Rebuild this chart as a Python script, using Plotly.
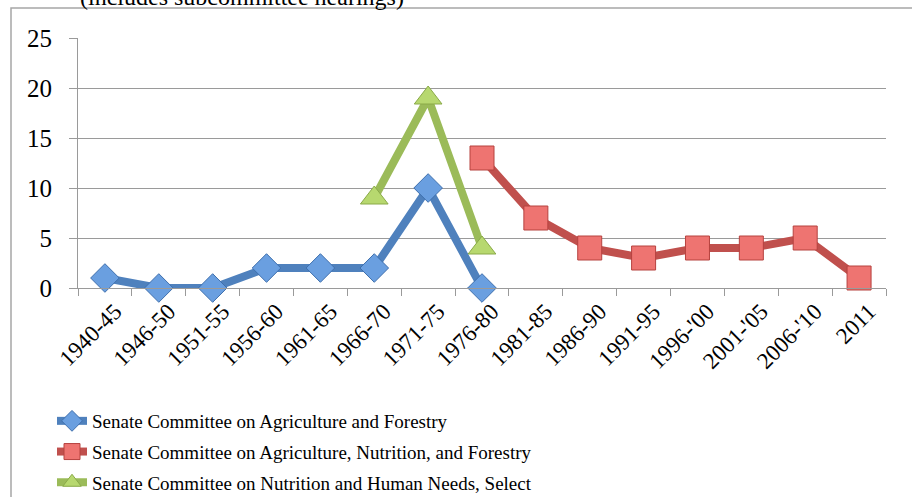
import plotly.graph_objects as go

periods = ["1940-45", "1946-50", "1951-55", "1956-60", "1961-65", "1966-70", "1971-75",
           "1976-80", "1981-85", "1986-90", "1991-95", "1996-'00", "2001-'05", "2006-'10", "2011"]

ag_forestry = [1, 0, 0, 2, 2, 2, 10, 0, None, None, None, None, None, None, None]
ag_nutrition_forestry = [None, None, None, None, None, None, None, 13, 7, 4, 3, 4, 4, 5, 1]
nutrition_human_needs = [None, None, None, None, None, 9, 19, 4, None, None, None, None, None, None, None]

names = ["Senate Committee on Agriculture and Forestry",
         "Senate Committee on Agriculture, Nutrition, and Forestry",
         "Senate Committee on Nutrition and Human Needs, Select"]

FONT = "Liberation Serif"

fig = go.Figure()
series = [
    (ag_forestry, names[0], "#4F81BD", "#6A9FE0", "#3E6FAD", "diamond", 22),
    (ag_nutrition_forestry, names[1], "#C0504D", "#EE7471", "#B6423F", "square", 24),
    (nutrition_human_needs, names[2], "#9BBB59", "#B7D86F", "#8AAA48", "triangle-up", 24),
]
for i, (vals, name, lc, mc, ml, sym, sz) in enumerate(series):
    fig.add_trace(go.Scatter(
        x=periods, y=vals, name=name, mode="lines+markers",
        line=dict(color=lc, width=8),
        marker=dict(symbol=sym, size=sz, color=mc, line=dict(color=ml, width=1)),
        connectgaps=False, legendgroup=f"g{i}", cliponaxis=False,
    ))

# plot area: x 78..886, y 38..288
W, H = 912, 497
L, R, T, B = 78, 886, 38, 288
pw, ph = R - L, B - T

def px(x):
    return (x - L) / pw

def py(y):
    return (B - y) / ph

fig.update_layout(
    width=W, height=H,
    margin=dict(l=L, r=W - R, t=T, b=H - B, autoexpand=False),
    paper_bgcolor="white", plot_bgcolor="white",
    font=dict(family=FONT, size=22, color="black"),
    showlegend=True,
    legend=dict(
        x=px(52), y=py(402), xanchor="left", yanchor="top",
        font=dict(family=FONT, size=19, color="black"),
        tracegroupgap=3, itemwidth=30, bgcolor="rgba(0,0,0,0)",
    ),
    xaxis=dict(
        type="category", range=[-0.5, 14.5], tickson="boundaries",
        ticks="outside", ticklen=7, tickcolor="#9A9A9A",
        showline=True, linecolor="#9A9A9A", linewidth=1,
        showgrid=False, tickangle=-45, automargin=False, ticklabelshift=10,
        tickfont=dict(family=FONT, size=23, color="black"),
    ),
    yaxis=dict(
        range=[0, 25], dtick=5, ticks="outside", ticklen=8, tickcolor="#9A9A9A",
        showline=True, linecolor="#9A9A9A", linewidth=1, automargin=False,
        showgrid=True, gridcolor="#9A9A9A", gridwidth=1, zeroline=False,
        ticklabelstandoff=12,
        tickfont=dict(family=FONT, size=25, color="black"),
    ),
    shapes=[dict(
        type="rect", xref="paper", yref="paper",
        x0=px(11), x1=px(940), y0=py(520), y1=py(8),
        line=dict(color="#A6A6A6", width=1.5), fillcolor="rgba(0,0,0,0)", layer="below",
    )],
    annotations=[dict(
        text="(includes subcommittee hearings)", xref="paper", yref="paper",
        x=px(242), y=py(12), xanchor="center", yanchor="bottom", showarrow=False,
        font=dict(family=FONT, size=24, color="black"),
    )],
)

fig.write_html("out.html")
